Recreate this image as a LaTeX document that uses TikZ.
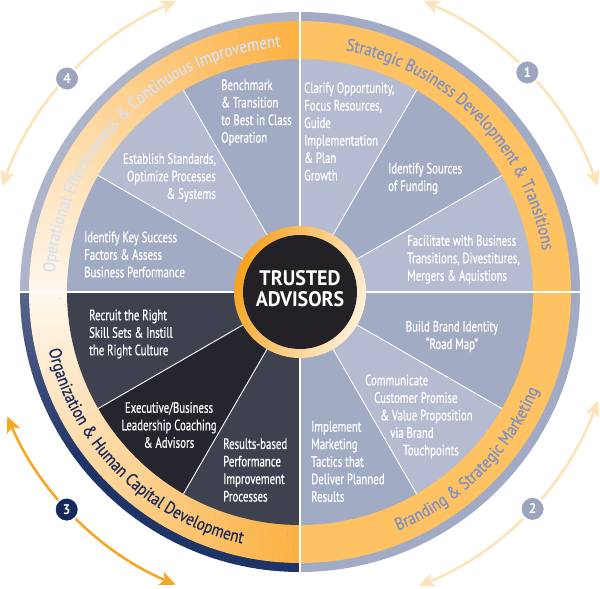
\documentclass[tikz,border=0pt]{standalone}
\usepackage{fontspec}
\setmainfont{PT Sans}
\newfontfamily\bodyfont[FakeStretch=0.72,FakeBold=0.6]{PT Sans}
\newfontfamily\bandfont[FakeStretch=0.86,FakeBold=0.5]{PT Sans}
\newfontfamily\ctrfont[FakeStretch=0.95]{PT Sans}
\usetikzlibrary{arrows.meta,decorations.text}

\definecolor{secLight}{HTML}{B5BBD0}
\definecolor{secDark}{HTML}{A2ABC4}
\definecolor{secCharA}{HTML}{3E424F}
\definecolor{secCharB}{HTML}{25262D}
\definecolor{ringGray}{HTML}{A2ABC5}
\definecolor{ringGrayL}{HTML}{AEB5CB}
\definecolor{ringNavyL}{HTML}{56648C}
\definecolor{ringNavy}{HTML}{1E3366}
\definecolor{bandOr}{HTML}{FEC263}
\definecolor{bandOrS}{HTML}{FBB143}
\definecolor{bandPale}{HTML}{FFF7EC}
\definecolor{txtBlue}{HTML}{7F91C5}
\definecolor{txtPale}{HTML}{D8E1F2}
\definecolor{txtNavy}{HTML}{17295A}
\definecolor{arrPale}{HTML}{FDE3BA}
\definecolor{arrOr}{HTML}{F7A823}
\definecolor{numGray}{HTML}{9CA5C0}
\definecolor{numNavy}{HTML}{14295A}
\definecolor{ctrBlack}{HTML}{232126}
\definecolor{ctrOr}{HTML}{F7A21F}
\definecolor{ctrPale}{HTML}{FFF1DA}

\tikzset{
  sectxt/.style={font=\bodyfont\fontsize{15}{17.5}\selectfont, text=white, inner sep=0pt},
  ctrtxt/.style={font=\ctrfont\bfseries\fontsize{21}{21}\selectfont, text=white, inner sep=0pt, align=center},
  numc/.style={circle, draw=white, line width=1.8pt, minimum size=24pt, inner sep=0pt,
    font=\ctrfont\bfseries\fontsize{14}{14}\selectfont, text=white},
  dblarrow/.style={line width=2.6pt,
    {Stealth[length=16pt,width=14pt,inset=4pt]}-{Stealth[length=16pt,width=14pt,inset=4pt]}},
  divline/.style={white, line width=2.4pt},
  secline/.style={white, line width=0.9pt}
}

\begin{document}
\begin{tikzpicture}[x=1pt,y=1pt]
\useasboundingbox (-300,-297) rectangle (300,292);

% outer rings
\fill[ringGray] (0,0) -- (-90:280pt) arc[start angle=-90,end angle=90,radius=280pt] -- cycle;
\fill[ringGrayL] (0,0) -- (90:280pt) arc[start angle=90,end angle=180,radius=280pt] -- cycle;
\foreach \i in {0,...,59}{
  \pgfmathsetmacro\aa{180+1.5*\i}
  \pgfmathsetmacro\bb{\aa+1.6}
  \pgfmathtruncatemacro\pc{min(100,100*\i/25)}
  \colorlet{mixc}{ringNavy!\pc!ringNavyL}
  \fill[mixc] (0,0) -- (\aa:280pt) arc[start angle=\aa,end angle=\bb,radius=280pt] -- cycle;
}

% bands
\fill[bandOr] (0,0) -- (-90:271pt) arc[start angle=-90,end angle=90,radius=271pt] -- cycle;
\foreach \i in {0,...,59}{
  \pgfmathsetmacro\aa{90+1.5*\i}
  \pgfmathsetmacro\bb{\aa+1.6}
  \pgfmathtruncatemacro\pc{100*\i/59}
  \colorlet{mixc}{bandPale!\pc!bandOrS}
  \fill[mixc] (0,0) -- (\aa:271pt) arc[start angle=\aa,end angle=\bb,radius=271pt] -- cycle;
}
\foreach \i in {0,...,59}{
  \pgfmathsetmacro\aa{180+1.5*\i}
  \pgfmathsetmacro\bb{\aa+1.6}
  \pgfmathtruncatemacro\pc{100*\i/59}
  \colorlet{mixc}{bandOrS!\pc!bandPale}
  \fill[mixc] (0,0) -- (\aa:271pt) arc[start angle=\aa,end angle=\bb,radius=271pt] -- cycle;
}

% sectors
\foreach \s/\c in {0/secLight,30/secDark,60/secLight,90/secDark,120/secLight,150/secDark,
                   180/secCharA,210/secCharB,240/secCharA,270/secDark,300/secLight,330/secDark}{
  \pgfmathsetmacro\ee{\s+30}
  \fill[\c] (0,0) -- (\s:233pt) arc[start angle=\s,end angle=\ee,radius=233pt] -- cycle;
}
\foreach \s in {30,60,120,150,210,240,300,330}{
  \draw[secline] (0,0) -- (\s:233pt);
}
\draw[divline] (0:281pt) -- (180:281pt);
\draw[divline] (90:281pt) -- (270:281pt);

% band texts
\path[decorate, decoration={text along path, text align=center,
  text={|\bandfont\fontsize{17.5}{17.5}\selectfont\color{txtBlue}|Strategic Business Development {\&} Transitions}}]
  (91:246pt) arc[start angle=91,end angle=-2,radius=246pt];
\path[decorate, decoration={text along path, text align=center,
  text={|\bandfont\fontsize{17.5}{17.5}\selectfont\color{txtPale}|Operational Effectiveness {\&} Continuous Improvement}}]
  (182:246pt) arc[start angle=182,end angle=88,radius=246pt];
\path[decorate, decoration={text along path, text align=center,
  text={|\bandfont\fontsize{17.5}{17.5}\selectfont\color{txtBlue}|Branding {\&} Strategic Marketing}}]
  (-92:258pt) arc[start angle=-92,end angle=2,radius=258pt];
\path[decorate, decoration={text along path, text align=center,
  text={|\bandfont\fontsize{17.5}{17.5}\selectfont\color{txtNavy}|Organization {\&} Human Capital Development}}]
  (178:258pt) arc[start angle=178,end angle=272,radius=258pt];

% center
\shade[left color=ctrOr, right color=ctrPale, shading angle=70] (0,0) circle[radius=66pt];
\fill[ctrBlack] (0,0) circle[radius=57pt];
\node[ctrtxt] (ctr) at (0,3) {TRUSTED\\ADVISORS};

% sector texts
\node[sectxt, anchor=west, align=left] (t1) at (-79,179.5) {Benchmark\\\& Transition\\to Best in Class\\Operation};
\node[sectxt, anchor=east, align=right] (t2) at (-84,114.5) {Establish Standards,\\Optimize Processes\\\& Systems};
\node[sectxt, anchor=west, align=left] (t3) at (-216,37.5) {Identify Key Success\\Factors \& Assess\\Business Performance};
\node[sectxt, anchor=west, align=left] (t4) at (4,160.5) {Clarify Opportunity,\\Focus Resources,\\Guide\\Implementation\\\& Plan\\Growth};
\node[sectxt, anchor=west, align=left] (t5) at (88,113.5) {Identify Sources\\of Funding};
\node[sectxt, anchor=west, align=left] (t6) at (107,32.5) {Facilitate with Business\\Transitions, Divestitures,\\Mergers \& Aquistions};
\node[sectxt, align=center] (t7) at (152,-44.5) {Build Brand Identity\\“Road Map”};
\node[sectxt, anchor=west, align=left] (t8) at (65,-124.5) {Communicate\\\hspace*{9pt}Customer Promise\\\hspace*{15pt}\& Value Proposition\\\hspace*{25pt}via Brand\\\hspace*{38pt}Touchpoints};
\node[sectxt, anchor=west, align=left] (t9) at (11,-169.5) {Implement\\Marketing\\Tactics that\\Deliver Planned\\Results};
\node[sectxt, anchor=west, align=left] (t10) at (-211,-42) {Recruit the Right\\Skill Sets \& Instill\\the Right Culture};
\node[sectxt, align=center] (t11) at (-131,-133) {Executive/Business\\Leadership Coaching\\\& Advisors};
\node[sectxt, anchor=west, align=left] (t12) at (-77,-178) {Results-based\\Performance\\Improvement\\Processes};

% outer arrows
\draw[dblarrow, arrPale] (113:316pt) arc[start angle=113,end angle=160.5,radius=316pt];
\draw[dblarrow, arrPale] (67:316pt) arc[start angle=67,end angle=19.5,radius=316pt];
\draw[dblarrow, arrPale] (-20:317pt) arc[start angle=-20,end angle=-68,radius=317pt];
\draw[dblarrow, arrOr] (203:318pt) arc[start angle=203,end angle=247,radius=318pt];

\node[numc, fill=numGray] (n1) at (44:316pt) {1};
\node[numc, fill=numGray] (n2) at (-43:318pt) {2};
\node[numc, fill=numNavy] (n3) at (223:319pt) {3};
\node[numc, fill=numGray] (n4) at (137.5:316pt) {4};
\end{tikzpicture}
\end{document}
